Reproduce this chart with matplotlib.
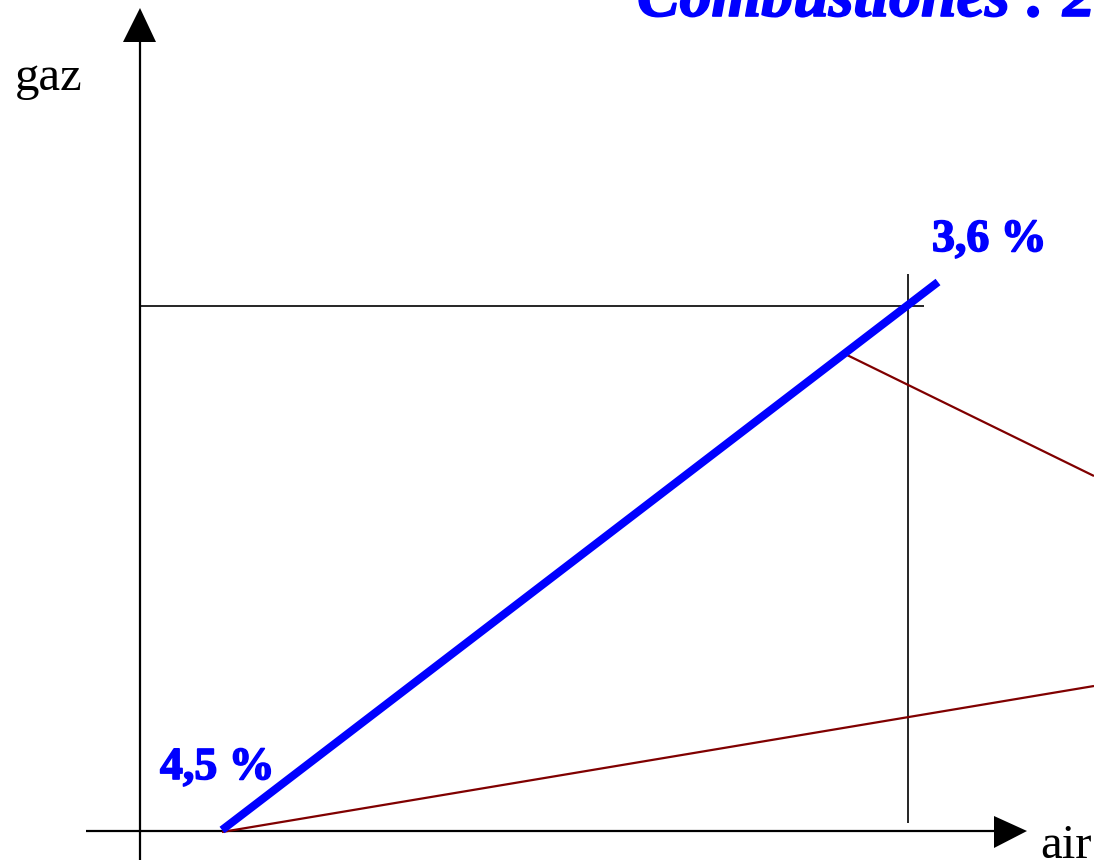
import matplotlib
matplotlib.use("Agg")
import matplotlib.pyplot as plt
import matplotlib.patheffects as pe

# Diagram coordinates (origin at axes crossing, x = air, y = gaz), in pixel-like units
ORIGIN = (140, 831)

x_axis = [(-54, 0), (858, 0)]          # horizontal axis line
x_arrow = [(854, 15), (887, 0), (854, -17)]
y_axis = [(0, -29), (0, 790)]
y_arrow = [(-17, 789), (0, 823), (16, 789)]

blue_line = [(82, 1), (798, 549)]        # thick blue line 4,5 % -> 3,6 %
red_line_low = [(82, -1), (954, 145)]
red_line_high = [(707, 476), (954, 355)]
h_ref = [(0, 525), (784, 525)]
v_ref = [(768, 557), (768, 8)]

labels_pct = ["4,5 %", "3,6 %"]
label_pos = [(20, 52), (792, 580)]
title = "Combustiones : 2"

fig = plt.figure(figsize=(10.94, 8.63), dpi=100)
ax = fig.add_axes([0, 0, 1, 1])
ax.set_xlim(-ORIGIN[0], 1094 - ORIGIN[0])
ax.set_ylim(ORIGIN[1] - 863, ORIGIN[1])
ax.axis("off")

def seg(pts, **kw):
    xs, ys = zip(*pts)
    ax.plot(xs, ys, solid_capstyle="butt", **kw)

seg(x_axis, color="black", lw=1.6)
seg(y_axis, color="black", lw=1.6)
ax.fill(*zip(*x_arrow), color="black", lw=0)
ax.fill(*zip(*y_arrow), color="black", lw=0)
seg(h_ref, color="black", lw=1.2)
seg(v_ref, color="black", lw=1.2)
seg(red_line_low, color="#800000", lw=1.6)
seg(red_line_high, color="#800000", lw=1.6)
seg(blue_line, color="#0000ff", lw=5.8)

serif = ["Liberation Serif", "DejaVu Serif"]
emb = [pe.withStroke(linewidth=1.2, foreground="#0000ff")]
ax.text(-125, 741, "gaz", family=serif, fontsize=35, ha="left", va="baseline")
ax.text(900, -27, "air", family=serif, fontsize=35, ha="left", va="baseline")
for lab, (x, y) in zip(labels_pct, label_pos):
    ax.text(x, y, lab, family=serif, fontsize=33, fontweight="bold",
            color="#0000ff", ha="left", va="baseline", path_effects=emb)
ax.text(497, 815, title, family=serif, fontsize=46, fontweight="bold",
        fontstyle="italic", color="#0000ff", ha="left", va="baseline",
        path_effects=[pe.withStroke(linewidth=1.2, foreground="#0000ff")])

fig.savefig("out.png", dpi=100)
